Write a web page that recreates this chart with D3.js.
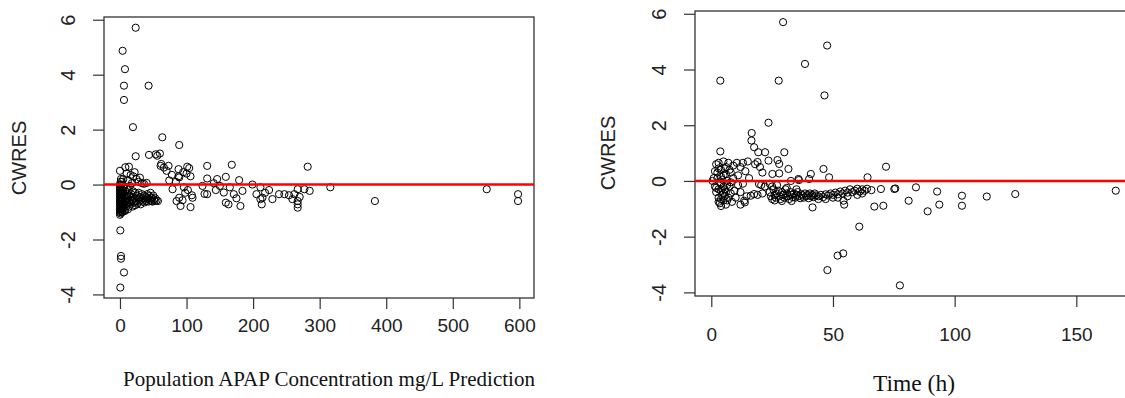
<!DOCTYPE html>
<html lang="en">
<head>
<meta charset="UTF-8">
<title>CWRES diagnostics</title>
<script src="https://d3js.org/d3.v7.min.js"></script>
<style>
  body { margin: 0; background: #fff; }
  svg { display: block; }
  .tick text { font-family: 'Liberation Sans', Arial, sans-serif; fill: #222; }
  .ylab { font-family: 'Liberation Sans', Arial, sans-serif; fill: #222; }
  .xtitle { font-family: 'Liberation Serif', 'Times New Roman', serif; fill: #111; }
</style>
</head>
<body>
<svg id="chart" width="1125" height="398"></svg>
<script>
// CWRES vs population prediction (mg/L)
const predOutliers = [
  [23.6, 5.71], [4, 4.87], [7.5, 4.2], [6, 3.6], [43, 3.6], [6, 3.08], [19.5, 2.09],
  [63.6, 1.72], [89, 1.44], [23.6, 1.03], [43.6, 1.08], [53.7, 1.1], [60, 1.13], [56, 1.05],
  [0.5, -1.67], [1.5, -2.6], [1.5, -2.7], [6, -3.2], [0.5, -3.75]
];
const predCluster = [
  [0, -1.1], [0, -1.0], [0, -0.9], [0, -0.8], [0, -0.7], [0, -0.6], [0, -0.5], [0, -0.4],
  [0, -0.3], [0, -0.2], [0, -0.1], [0, 0], [0, 0.5], [1, -1.05], [1, -0.85], [1, -0.65],
  [1, -0.45], [1, -0.25], [1, 0.1], [2, -0.95], [2, -0.75], [2, -0.55], [2, -0.35], [2, -0.15],
  [3, -0.9], [3, -0.6], [3, -0.4], [3, 0.1], [4, -1.0], [4, -0.7], [4, -0.5], [4, -0.2],
  [5, -0.85], [5, -0.55], [5, -0.3], [5, 0.2], [6, -0.95], [6, -0.65], [6, -0.1], [7, -0.75],
  [7, -0.45], [7.5, -0.96], [8, -0.6], [8, -0.25], [8, 0.63], [9, -0.8], [9, -0.4], [10, -0.55],
  [10, -0.15], [10, 0.4], [11, -0.7], [11, -0.35], [12, -0.9], [12, -0.5], [12, 0.15], [13, -0.65],
  [13, -0.2], [13.5, 0.65], [14, -0.8], [14, -0.4], [15, -0.55], [15, -0.05], [16, -0.7], [16, 0.35],
  [17, -0.35], [18, -0.6], [18, 0.05], [19, -0.8], [19, -0.45], [20, -0.25], [20, 0.3], [21, -0.65],
  [22, -0.5], [22, 0.45], [23, -0.75], [23, -0.3], [24, -0.6], [25, -0.4], [25, 0.2], [26, -0.7],
  [27, -0.5], [28, -0.3], [28, 0.1], [29, -0.62], [30, -0.45], [30, 0.25], [31, -0.72], [32, -0.55],
  [33, -0.35], [33, 0.05], [34, -0.62], [35, -0.5], [36, -0.4], [36, 0.03], [37, -0.65], [38, -0.55],
  [39, -0.45], [40, -0.6], [40, 0.06], [41, -0.35], [42, -0.5], [43, -0.62], [44, -0.42], [45, -0.55],
  [46, -0.3], [47, -0.6], [48, -0.48], [49, -0.62], [50, -0.4], [51, -0.55], [52, -0.6], [53, -0.5],
  [55, -0.58], [57, -0.6],
  [0.5, -0.95], [0.5, -0.75], [0.5, -0.55], [0.5, -0.35], [0.5, -0.15], [1.5, -0.9], [1.5, -0.7],
  [1.5, -0.5], [1.5, -0.3], [1.5, 0.2], [2.5, -1.0], [2.5, -0.8], [2.5, -0.6], [2.5, -0.45],
  [2.5, 0], [3.5, -0.75], [3.5, -0.55], [3.5, -0.3]
];
const predSpread = [
  [61, 0.68], [73, 0.68], [88, 0.56], [101, 0.65], [62, 0.75], [66, 0.62], [70, 0.5], [78, 0.35],
  [88, 0.3], [100, 0.4], [106, 0.3], [89, 0.26], [95, 0.45], [84, 0.1], [104, 0.6], [74, 0.15],
  [79, -0.17], [89, -0.48], [94, -0.57], [91, -0.78], [106, -0.82], [109, -0.48], [108, -0.39],
  [98, -0.3], [85, -0.6], [96, -0.1], [102, -0.2],
  [131, 0.68], [168, 0.72], [146, 0.2], [159, 0.28], [179, 0.16], [199, 0], [124, -0.05], [131, 0.22],
  [141, 0.05], [127, -0.34], [131, -0.35], [144, -0.2], [156, -0.29], [159, -0.66], [163, -0.72],
  [171, -0.35], [181, -0.78], [184, -0.23], [165, -0.1], [150, -0.05], [175, -0.5],
  [211, -0.1], [224, -0.2], [239, -0.35], [247, -0.35], [254, -0.39], [213, -0.72], [211, -0.53],
  [214, -0.48], [229, -0.53], [218, -0.3], [205, -0.35],
  [259, -0.53], [267, -0.6], [267, -0.72], [267, -0.84], [267, -0.17], [277, -0.17], [285, -0.23],
  [282, 0.65], [262, -0.35], [270, -0.45],
  [316, -0.1], [383, -0.6], [551, -0.17], [598, -0.35], [598, -0.6]
];

// CWRES vs time (h)
const timeOutliers = [
  [29.5, 5.7], [47.6, 4.86], [38.5, 4.2], [3.7, 3.6], [27.7, 3.6], [46.5, 3.07], [23.5, 2.09],
  [16.6, 1.72], [16.5, 1.45], [17.6, 1.21], [19.3, 1.03], [22.1, 1.03], [30, 1.03], [3.7, 1.06],
  [47.7, -3.2], [51.9, -2.68], [54.2, -2.6], [60.8, -1.64], [77.5, -3.75]
];
const timeEarly = [
  [0.5, 0], [1, 0.1], [1.5, -0.2], [2, 0.6], [2, -0.4], [2.5, 0.3], [3, -0.6], [3, 0.65],
  [3.5, -0.8], [4, -0.1], [4, 0.4], [4.5, -0.5], [5, 0.2], [5, -0.7], [5.5, -0.3], [6, 0.5],
  [6, -0.85], [6.5, 0], [7, -0.6], [7, 0.65], [7.5, -0.2], [8, 0.3], [8, -0.45], [8.5, -0.75],
  [9, 0.1], [9, 0.55], [9.5, -0.35], [10, -0.6], [10.5, 0.65], [11, 0.2], [11, -0.15], [12, -0.4],
  [12, 0.5], [13, 0.65], [13, -0.1], [14, 0.35], [14.5, -0.55], [15, 0.7], [15.5, 0.1], [18, 0.6],
  [19, 0.68], [20, 0.5], [20.5, -0.15], [21, 0.3], [12, -0.85], [4, -0.9], [5, 0.7], [3, 0.45],
  [2, -0.25], [1.5, 0.35], [4, -0.35], [5.5, -0.55], [6.5, -0.15], [6, 0.25], [3.5, -0.05],
  [4.5, 0.05], [5, -0.45], [4, -0.65], [5.5, 0.45], [3, -0.75], [7.5, 0.4], [8, -0.05], [4, 0.15],
  [5, -0.2], [6, -0.4], [6.5, -0.7], [3, -0.3], [2.5, 0.1],
  [19.6, -0.11], [17.6, -0.47], [16.2, -0.53], [13.5, -0.71], [13.8, -0.77], [19, -0.5], [21, -0.45],
  [22, -0.2], [24, -0.1]
];
const timeBand = [
  [23.5, 0.73], [27.2, 0.75], [27.9, 0.61], [31.7, 0.43], [25.1, 0.25], [27.9, 0.27], [35.8, 0.07],
  [40.2, 0.07], [40.9, 0.25], [46.1, 0.43], [48.4, 0.13], [64.2, 0.13], [71.8, 0.51], [36, 0.03],
  [32.7, 0],
  [24, -0.4], [24.5, -0.55], [25, -0.65], [25.5, -0.3], [26, -0.5], [26.5, -0.6], [27, -0.45],
  [27.5, -0.35], [28, -0.55], [28.5, -0.65], [29, -0.4], [29.5, -0.5], [30, -0.6], [30.5, -0.3],
  [31, -0.45], [31.5, -0.55], [32, -0.65], [32.5, -0.4], [33, -0.5], [33.5, -0.58], [34, -0.45],
  [34.5, -0.6], [35, -0.5], [35.5, -0.4], [36, -0.55], [36.5, -0.62], [37, -0.48], [37.5, -0.52],
  [38, -0.6], [38.5, -0.45], [39, -0.55], [39.5, -0.5], [40, -0.62], [40.5, -0.45], [41, -0.55],
  [41.5, -0.5], [42, -0.58], [42.5, -0.45], [43, -0.52], [44, -0.55], [45, -0.5], [46, -0.58],
  [47, -0.48], [48, -0.52], [49, -0.45], [50, -0.5], [51, -0.42], [52, -0.48], [53, -0.38],
  [54, -0.45], [55, -0.35], [56, -0.42], [57, -0.3], [58, -0.4], [59, -0.35], [60, -0.28],
  [61, -0.38], [62, -0.3], [63, -0.35], [64, -0.28], [25, -0.2], [27, -0.15], [26, -0.7],
  [29, -0.72], [31, -0.25], [33, -0.72], [35, -0.3], [44, -0.65], [47, -0.65], [50, -0.6],
  [52, -0.6], [56, -0.55], [60, -0.5], [62, -0.45],
  [41.6, -0.95], [54.6, -0.85], [54.3, -0.71], [67, -0.92], [70.7, -0.89], [69.7, -0.29],
  [75.2, -0.29], [75.6, -0.27], [65.8, -0.33], [81.1, -0.71], [84.1, -0.23], [88.9, -1.09],
  [92.8, -0.38], [93.7, -0.85], [103, -0.53], [103, -0.89], [113.2, -0.56], [124.9, -0.47],
  [166.2, -0.35]
];

const yTicks = [-4, -2, 0, 2, 4, 6];
const predTicks = [0, 100, 200, 300, 400, 500, 600];
const timeTicks = [0, 50, 100, 150];

const svg = d3.select("#chart");
svg.append("rect").attr("width", 1125).attr("height", 398).attr("fill", "#fff");

function drawPanel(opts) {
  const g = svg.append("g");
  const x = d3.scaleLinear().domain(opts.xDomain).range([opts.left, opts.right]);
  const y = d3.scaleLinear().domain([-4.13, 6.1]).range([opts.bottom, opts.top]);

  // y axis with rotated labels (R style), plain hyphen for minus
  const ya = g.append("g").attr("transform", `translate(${opts.left},0)`)
    .call(d3.axisLeft(y).tickValues(yTicks).tickSize(11).tickFormat(d => String(d)));
  ya.select(".domain").remove();
  ya.selectAll(".tick line").attr("stroke", "#333").attr("stroke-width", 1.2);
  ya.selectAll(".tick text")
    .attr("x", 0).attr("dy", null)
    .attr("transform", "translate(-36,0) rotate(-90)")
    .attr("text-anchor", "middle")
    .attr("dominant-baseline", "central")
    .style("font-size", "20px");

  const xa = g.append("g").attr("transform", `translate(0,${opts.bottom})`)
    .call(d3.axisBottom(x).tickValues(opts.xTicks).tickSize(11).tickFormat(d => String(d)));
  xa.select(".domain").remove();
  xa.selectAll(".tick line").attr("stroke", "#333").attr("stroke-width", 1.2);
  xa.selectAll(".tick text")
    .attr("y", opts.xLabelOffset).attr("dy", "0.36em")
    .style("font-size", "19px");

  // plot box
  g.append("rect")
    .attr("x", opts.left).attr("y", opts.top)
    .attr("width", opts.right - opts.left).attr("height", opts.bottom - opts.top)
    .attr("fill", "none").attr("stroke", "#333").attr("stroke-width", 1.3);

  g.append("text").attr("class", "ylab")
    .attr("transform", `translate(${opts.yTitleX},${opts.yTitleY}) rotate(-90)`)
    .attr("text-anchor", "middle").attr("dominant-baseline", "central")
    .style("font-size", "20px")
    .text("CWRES");

  g.append("text").attr("class", "xtitle")
    .attr("x", opts.titleX).attr("y", opts.titleY)
    .attr("text-anchor", "middle")
    .style("font-size", opts.titleSize + "px")
    .text(opts.title);

  g.selectAll("circle.pt").data(opts.points).enter()
    .append("circle").attr("class", "pt")
    .attr("cx", d => x(d[0]))
    .attr("cy", d => y(d[1]))
    .attr("r", 3.6)
    .attr("fill", "none")
    .attr("stroke", "#000")
    .attr("stroke-width", 1);

  // zero reference line
  g.append("line")
    .attr("x1", opts.left).attr("x2", opts.right)
    .attr("y1", y(0)).attr("y2", y(0))
    .attr("stroke", "#ff0000").attr("stroke-width", 2.6);
}

drawPanel({
  left: 104, right: 534, top: 17, bottom: 298,
  xDomain: [-24, 622], xTicks: predTicks, xLabelOffset: 27,
  points: predCluster.concat(predSpread, predOutliers),
  yTitleX: 19, yTitleY: 158,
  title: "Population APAP Concentration mg/L Prediction",
  titleX: 329, titleY: 386, titleSize: 21
});

drawPanel({
  left: 695, right: 1134, top: 11, bottom: 296,
  xDomain: [-6.7, 173.7], xTicks: timeTicks, xLabelOffset: 38,
  points: timeEarly.concat(timeBand, timeOutliers),
  yTitleX: 608, yTitleY: 153,
  title: "Time (h)",
  titleX: 914, titleY: 391, titleSize: 23.5
});
</script>
</body>
</html>
